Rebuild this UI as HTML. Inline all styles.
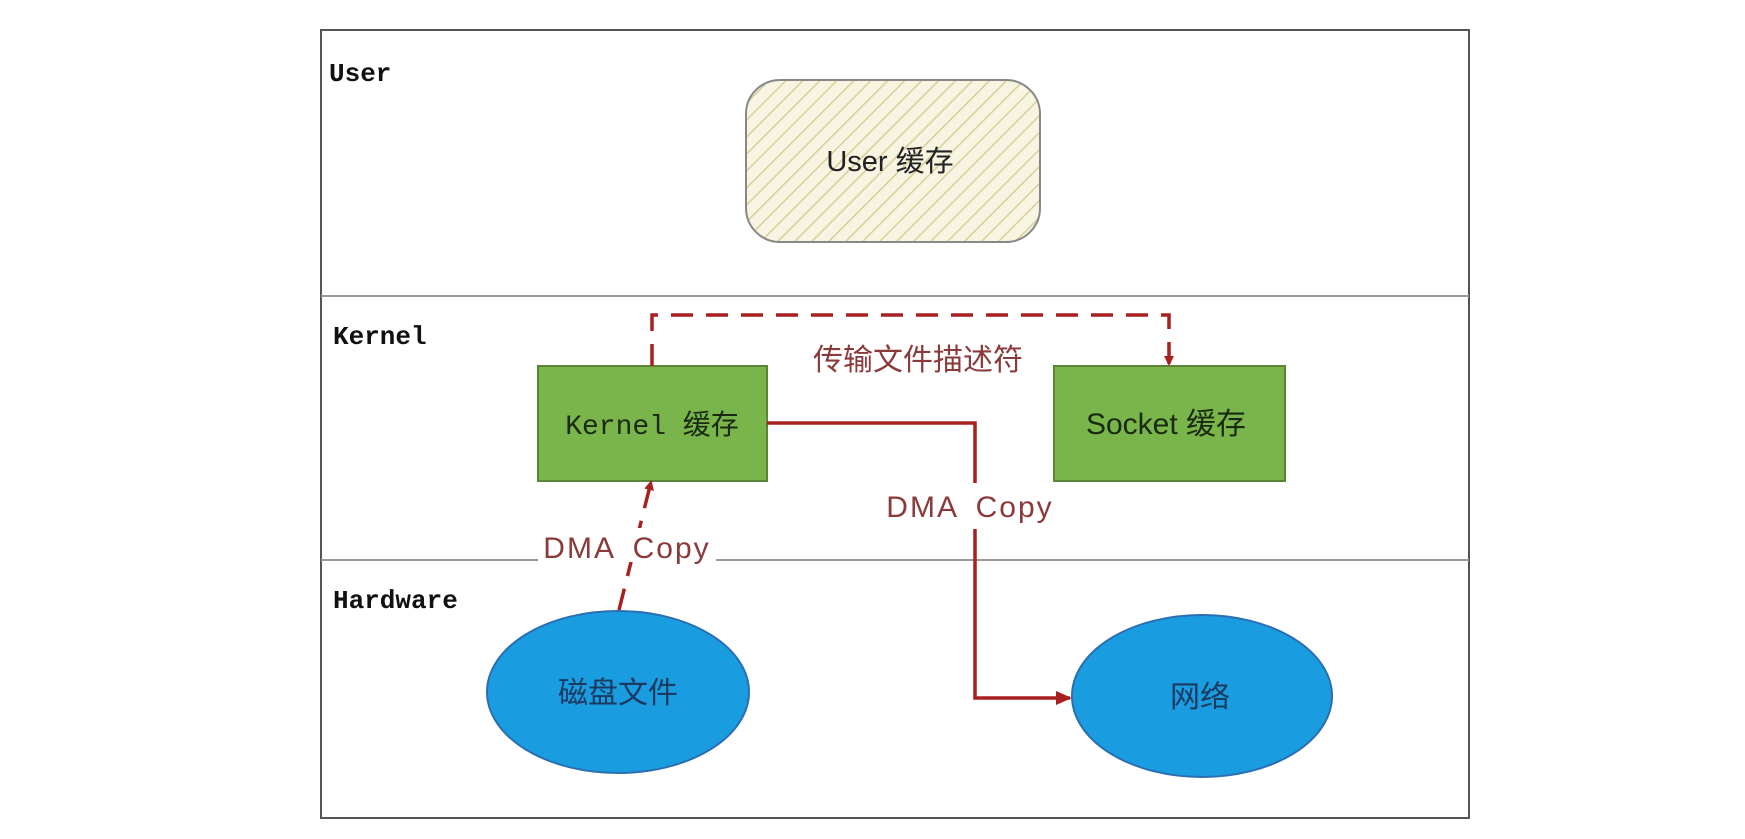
<!DOCTYPE html>
<html><head><meta charset="utf-8"><style>
html,body{margin:0;padding:0;background:#fff;}
svg{display:block;}
</style></head><body>
<svg width="1745" height="839" viewBox="0 0 1745 839" xmlns="http://www.w3.org/2000/svg">
<defs>
<pattern id="hatch" patternUnits="userSpaceOnUse" width="12" height="12" patternTransform="rotate(45)">
<rect width="12" height="12" fill="#f7f4e2"/>
<line x1="0" y1="0" x2="0" y2="12" stroke="#d8cf9a" stroke-width="3"/>
</pattern>
<marker id="ah" markerWidth="10" markerHeight="10" refX="8" refY="5" orient="auto" markerUnits="userSpaceOnUse">
<path d="M0,0 L10,5 L0,10 Z" fill="#a82020"/>
</marker>
<marker id="ah2" markerWidth="16" markerHeight="14" refX="14" refY="7" orient="auto" markerUnits="userSpaceOnUse">
<path d="M0,0 L16,7 L0,14 Z" fill="#a82020"/>
</marker>
</defs>
<rect x="0" y="0" width="1745" height="839" fill="#fff"/>
<rect x="321" y="30" width="1148" height="788" fill="none" stroke="#555" stroke-width="2"/>
<line x1="321" y1="296" x2="1469" y2="296" stroke="#999" stroke-width="2"/>
<line x1="321" y1="560" x2="1469" y2="560" stroke="#999" stroke-width="2"/>
<g font-family="Liberation Mono, monospace" font-weight="bold" font-size="26" fill="#111">
<text x="329" y="81">User</text>
<text x="333" y="344">Kernel</text>
<text x="333" y="608">Hardware</text>
</g>
<rect x="746" y="80" width="294" height="162" rx="34" fill="url(#hatch)" stroke="#888" stroke-width="2"/>
<text x="890" y="171" text-anchor="middle" font-family="Liberation Sans, 'Noto Sans CJK SC', sans-serif" font-size="29" fill="#222">User 缓存</text>
<rect x="538" y="366" width="229" height="115" fill="#79b54a" stroke="#5a8438" stroke-width="2"/>
<text x="652" y="434" text-anchor="middle" font-family="Liberation Mono, 'Noto Sans CJK SC', monospace" font-size="28" fill="#1a2a10">Kernel 缓存</text>
<rect x="1054" y="366" width="231" height="115" fill="#79b54a" stroke="#5a8438" stroke-width="2"/>
<text x="1166" y="434" text-anchor="middle" font-family="Liberation Sans, 'Noto Sans CJK SC', sans-serif" font-size="30" fill="#1a2a10">Socket 缓存</text>
<path d="M652,366 L652,315 L1169,315 L1169,364" fill="none" stroke="#a82020" stroke-width="3.5" stroke-dasharray="22,13" marker-end="url(#ah)"/>
<text x="918" y="370" text-anchor="middle" font-family="Liberation Sans, 'Noto Sans CJK SC', sans-serif" font-size="30" fill="#8a3a3a">传输文件描述符</text>
<path d="M767,423 L975,423 L975,698 L1070,698" fill="none" stroke="#a82020" stroke-width="3.5" marker-end="url(#ah2)"/>
<rect x="880" y="483" width="180" height="46" fill="#fff"/>
<text x="970" y="517" text-anchor="middle" font-family="Liberation Sans, sans-serif" font-size="30" letter-spacing="2" word-spacing="8" fill="#8a3a3a">DMA Copy</text>
<path d="M619,610 L651,482" fill="none" stroke="#a82020" stroke-width="3.5" stroke-dasharray="22,13" marker-end="url(#ah)"/>
<rect x="538" y="528" width="178" height="34" fill="#fff"/>
<text x="627" y="558" text-anchor="middle" font-family="Liberation Sans, sans-serif" font-size="30" letter-spacing="2" word-spacing="8" fill="#8a3a3a">DMA Copy</text>
<ellipse cx="618" cy="692" rx="131" ry="81" fill="#1a9de0" stroke="#2a6fb0" stroke-width="2"/>
<text x="618" y="703" text-anchor="middle" font-family="'Noto Sans CJK SC', sans-serif" font-size="30" fill="#1a3a60">磁盘文件</text>
<ellipse cx="1202" cy="696" rx="130" ry="81" fill="#1a9de0" stroke="#2a6fb0" stroke-width="2"/>
<text x="1200" y="707" text-anchor="middle" font-family="'Noto Sans CJK SC', sans-serif" font-size="30" fill="#1a3a60">网络</text>
</svg>
</body></html>
